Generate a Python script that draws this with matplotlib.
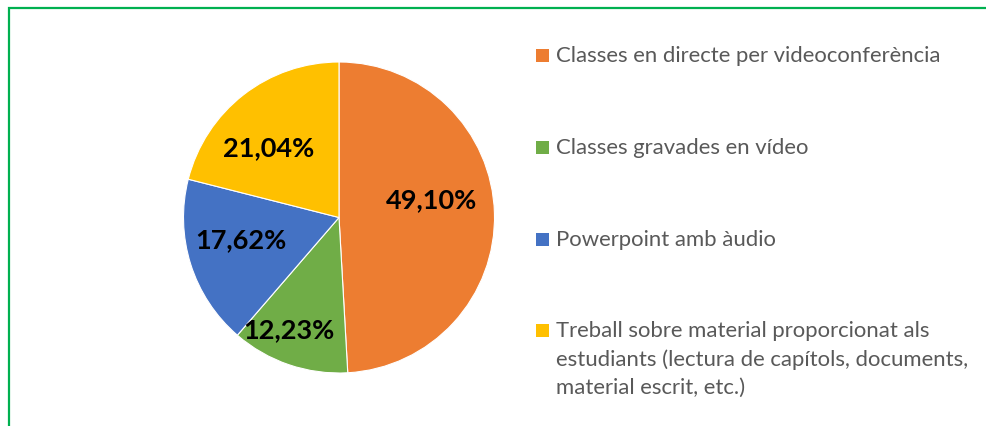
import matplotlib
matplotlib.use("Agg")
import matplotlib.pyplot as plt
from matplotlib.patches import Rectangle

categories = [
    "Classes en directe per videoconferència",
    "Classes gravades en vídeo",
    "Powerpoint amb àudio",
    "Treball sobre material proporcionat als\nestudiants (lectura de capítols, documents,\nmaterial escrit, etc.)",
]
values = [49.10, 12.23, 17.62, 21.04]
value_labels = ["49,10%", "12,23%", "17,62%", "21,04%"]
colors = ["#ED7D31", "#70AD47", "#4472C4", "#FFC000"]

W, H = 986, 426
fig = plt.figure(figsize=(W / 100, H / 100), dpi=100)

cx, cy, r = 339, 217.5, 155.5
ax = fig.add_axes([(cx - r) / W, (H - cy - r) / H, 2 * r / W, 2 * r / H])
wedges, _ = ax.pie(values, colors=colors, startangle=90, counterclock=False,
                   radius=1, wedgeprops=dict(edgecolor="white", linewidth=0.8))
ax.set_xlim(-1, 1)
ax.set_ylim(-1, 1)
ax.set_aspect("auto")
ax.axis("off")

label_pos = [(0.592, 0.113), (-0.322, -0.727), (-0.630, -0.145), (-0.450, 0.444)]
for (x, y), t in zip(label_pos, value_labels):
    ax.text(x, y, t, ha="center", va="center", fontsize=19.5, fontweight="bold",
            family="Lato", color="black")

# legend
base_y = [62, 154, 246, 337]
line_gap = 28.5
for lab, col, by in zip(categories, colors, base_y):
    fig.add_artist(Rectangle((536 / W, (H - by) / H), 13 / W, 13 / H,
                             transform=fig.transFigure, facecolor=col, edgecolor="none"))
    for i, line in enumerate(lab.split("\n")):
        fig.text(556 / W, (H - by - i * line_gap) / H, line, ha="left", va="baseline",
                 fontsize=15.9, family="Lato", color="#595959")

# frame
fig.add_artist(Rectangle((9 / W, -0.1), 1.2, (H - 8) / H + 0.1,
                         transform=fig.transFigure, facecolor="none",
                         edgecolor="#00B050", linewidth=1.6, clip_on=False))

fig.savefig("out.png", dpi=100)
